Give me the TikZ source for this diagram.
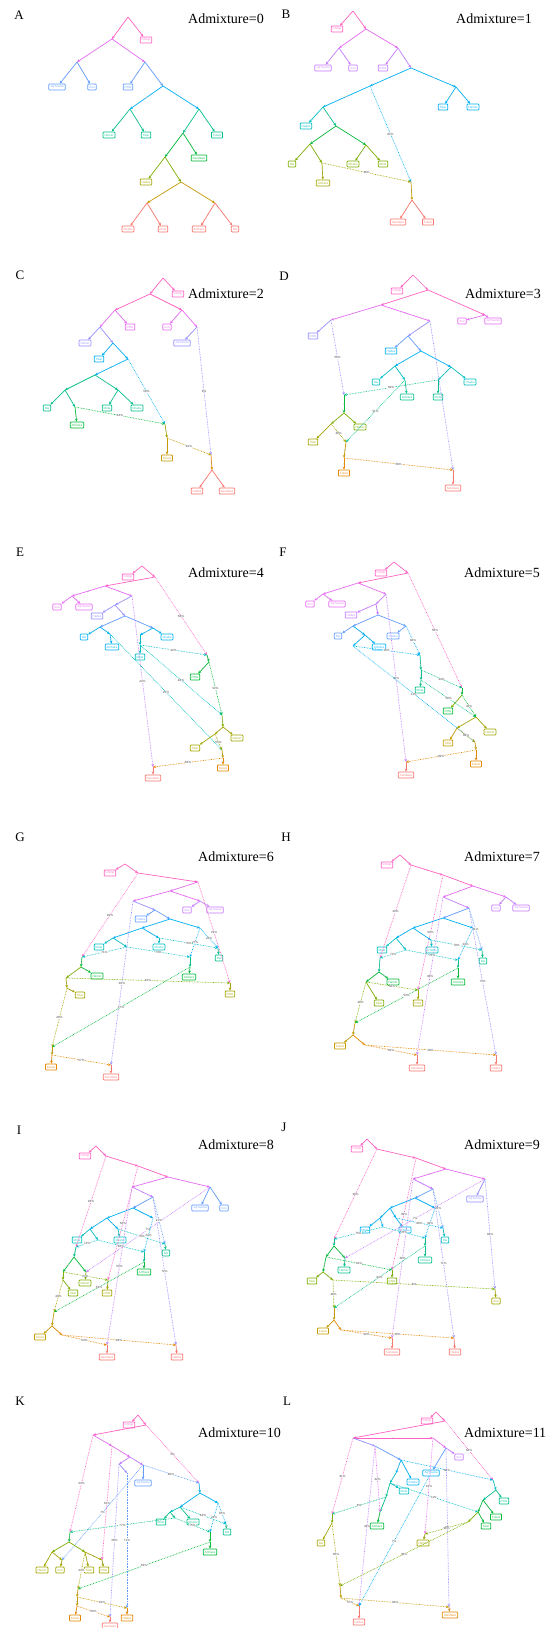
\documentclass[tikz,border=0pt]{standalone}
\usepackage{fontspec}
\setmainfont{Liberation Serif}
\setsansfont{Liberation Sans}
\usetikzlibrary{arrows.meta,decorations.markings}
\definecolor{cPink}{HTML}{FF61C3}
\definecolor{cMag}{HTML}{E76BF3}
\definecolor{cViol}{HTML}{C77CFF}
\definecolor{cLav}{HTML}{9590FF}
\definecolor{cBlue}{HTML}{619CFF}
\definecolor{cSky}{HTML}{00B0F6}
\definecolor{cCyan}{HTML}{00BFC4}
\definecolor{cTeal}{HTML}{00C08B}
\definecolor{cGreen}{HTML}{00BA38}
\definecolor{cLime}{HTML}{7CAE00}
\definecolor{cOlive}{HTML}{A3A500}
\definecolor{cGold}{HTML}{C49A00}
\definecolor{cOrange}{HTML}{E58700}
\definecolor{cSalmon}{HTML}{F8766D}
\tikzset{
  leaf/.style={draw=#1, text=#1!85!white, fill=white, rounded corners=0.8pt, line width=0.75pt,
    font=\fontsize{3}{3.2}\sffamily\selectfont, inner xsep=1.5pt, inner ysep=1pt, minimum height=6pt},
  te/.style={draw=#1, line width=0.7pt, -{Stealth[length=3pt,width=2.6pt]},
    postaction={decorate}, decoration={markings, mark=at position 0.5 with {\fill[gray!70] (0,0) circle (0.55pt);}}},
  ad/.style={draw=#1, line width=0.65pt, dash pattern=on 0.7pt off 0.9pt, -{Stealth[length=3pt,width=2.6pt]}},
  pct/.style={font=\fontsize{3}{3.4}\sffamily\selectfont, text=black!75, fill=white, inner sep=0.2pt},
  ttl/.style={font=\fontsize{14}{15}\selectfont, anchor=west, inner sep=0pt},
  plet/.style={font=\fontsize{13}{14}\selectfont, inner sep=0pt}
}
\newcommand{\Lf}[4]{\node[leaf=#4] (#1) at (#2) {#3};}
\newcommand{\Cp}[2]{\coordinate (#1) at (#2);}
\newcommand{\Te}[3]{\draw[te=#3] (#1) -- (#2);}
\newcommand{\Ad}[4]{\draw[ad=#3] (#1) -- node[pct]{#4\%} (#2);}
\begin{document}
\begin{tikzpicture}[x=1pt,y=-1pt]
\useasboundingbox (0,0) rectangle (547,1628);
\fill[white] (0,0) rectangle (547,1628);
% ---------- titles ----------
\node[plet] (lA) at (19,15) {A};   \node[ttl] (tA) at (188,19) {Admixture=0};
\node[plet] (lB) at (286,14) {B};  \node[ttl] (tB) at (456,19) {Admixture=1};
\node[plet] (lC) at (20,275) {C};  \node[ttl] (tC) at (188,294) {Admixture=2};
\node[plet] (lD) at (284,276) {D}; \node[ttl] (tD) at (465,294) {Admixture=3};
\node[plet] (lE) at (20,552) {E};  \node[ttl] (tE) at (188,573) {Admixture=4};
\node[plet] (lF) at (283,552) {F}; \node[ttl] (tF) at (464,573) {Admixture=5};
\node[plet] (lG) at (20,837) {G};  \node[ttl] (tG) at (198,857) {Admixture=6};
\node[plet] (lH) at (286,837) {H}; \node[ttl] (tH) at (464,857) {Admixture=7};
\node[plet] (lI) at (19,1130) {I}; \node[ttl] (tI) at (198,1145) {Admixture=8};
\node[plet] (lJ) at (284,1127) {J};\node[ttl] (tJ) at (464,1145) {Admixture=9};
\node[plet] (lK) at (20,1401) {K}; \node[ttl] (tK) at (198,1433) {Admixture=10};
\node[plet] (lL) at (287,1401) {L};\node[ttl] (tL) at (464,1433) {Admixture=11};
% ================= A =================
\Cp{Ar}{128,17}\Lf{AChimp}{146,40}{Chimp}{cPink}\Cp{A1}{112,39}
\Cp{A2}{77,62}\Cp{A3}{145,62}
\Lf{AJu}{57,87}{Ju|'hoansi}{cBlue}\Lf{AXoo}{92,87}{Xoo}{cBlue}
\Lf{ARHG}{128,87}{RHG}{cBlue}\Cp{A4}{163,86}
\Cp{A5}{130,109}\Cp{A6}{199,109}
\Lf{AHam}{109,135}{Hamer}{cTeal}\Lf{ATik}{146,135}{Tikar}{cTeal}
\Cp{A7}{183,133}\Lf{AFul}{217,135}{Fulani}{cTeal}
\Cp{A8}{165,157}\Lf{ASan}{199,158}{Sandawe}{cGreen}
\Lf{AHad}{146,182}{Hadza}{cOlive}\Cp{A9}{181,182}
\Cp{A10}{147,203}\Cp{A11}{215,203}
\Lf{ACha}{128,229}{Chabu}{cSalmon}\Lf{AMot}{163,229}{Mota}{cSalmon}
\Lf{AAmh}{199,229}{Amhara}{cSalmon}\Lf{ADai}{235,229}{Dai}{cSalmon}
\Te{Ar}{AChimp}{cPink}\Te{Ar}{A1}{cPink}\Te{A1}{A2}{cMag}\Te{A1}{A3}{cMag}
\Te{A2}{AJu}{cBlue}\Te{A2}{AXoo}{cBlue}\Te{A3}{ARHG}{cBlue}\Te{A3}{A4}{cBlue}
\Te{A4}{A5}{cSky}\Te{A4}{A6}{cSky}\Te{A5}{AHam}{cTeal}\Te{A5}{ATik}{cTeal}
\Te{A6}{A7}{cTeal}\Te{A6}{AFul}{cTeal}\Te{A7}{A8}{cGreen}\Te{A7}{ASan}{cGreen}
\Te{A8}{AHad}{cLime}\Te{A8}{A9}{cLime}\Te{A9}{A10}{cGold}\Te{A9}{A11}{cGold}
\Te{A10}{ACha}{cSalmon}\Te{A10}{AMot}{cSalmon}\Te{A11}{AAmh}{cSalmon}\Te{A11}{ADai}{cSalmon}
% ================= B =================
\Cp{Br}{353,11}\Lf{BChimp}{337,29}{Chimp}{cPink}\Cp{B1}{366,29}
\Cp{B2}{339,48}\Cp{B3}{398,48}
\Lf{BJu}{323,68}{Ju|'hoansi}{cViol}\Lf{BXoo}{353,68}{Xoo}{cViol}
\Lf{BRHG}{383,68}{RHG}{cViol}\Cp{B4}{411,68}
\Cp{B5}{370,86}\Cp{B6}{456,87}
\Lf{BTik}{443,107}{Tikar}{cSky}\Lf{BHam}{473,107}{Hamer}{cSky}
\Cp{B7}{323,107}\Lf{BHad}{306,126}{Hadza}{cCyan}\Cp{B8}{336,126}
\Cp{B9}{310,144}\Cp{B10}{366,145}
\Lf{BDai}{292,164}{Dai}{cLime}\Cp{B11}{322,163}\Lf{BAmh}{323,183}{Amhara}{cOlive}
\Lf{BCha}{353,164}{Chabu}{cLime}\Lf{BMot}{383,164}{Mota}{cLime}
\Cp{BA1}{411,182}\Cp{B12}{412,200}
\Lf{BSan}{398,222}{Sandawe}{cSalmon}\Lf{BFul}{428,222}{Fulani}{cSalmon}
\Te{Br}{BChimp}{cPink}\Te{Br}{B1}{cPink}\Te{B1}{B2}{cMag}\Te{B1}{B3}{cMag}
\Te{B2}{BJu}{cViol}\Te{B2}{BXoo}{cViol}\Te{B3}{BRHG}{cViol}\Te{B3}{B4}{cViol}
\Te{B4}{B5}{cSky}\Te{B4}{B6}{cSky}\Te{B6}{BTik}{cSky}\Te{B6}{BHam}{cSky}
\Te{B5}{B7}{cSky}\Te{B7}{BHad}{cCyan}\Te{B7}{B8}{cTeal}
\Te{B8}{B9}{cGreen}\Te{B8}{B10}{cGreen}\Te{B9}{BDai}{cLime}\Te{B9}{B11}{cLime}
\Te{B11}{BAmh}{cOlive}\Te{B10}{BCha}{cLime}\Te{B10}{BMot}{cLime}
\Ad{B5}{BA1}{cSky}{62}\Ad{B11}{BA1}{cOlive}{38}
\Te{BA1}{B12}{cGold}\Te{B12}{BSan}{cSalmon}\Te{B12}{BFul}{cSalmon}
% ================= C =================
\Cp{Cr}{163,278}\Lf{CChimp}{178,294}{Chimp}{cPink}\Cp{C1}{150,294}
\Cp{C2}{115,310}\Cp{C3}{182,310}
\Cp{C4}{100,327}\Lf{CRHG}{130,327}{RHG}{cMag}
\Lf{CXoo}{167,327}{Xoo}{cMag}\Cp{C5}{197,327}
\Lf{CJu}{182,343}{Ju|'hoansi}{cLav}
\Lf{CHam}{85,343}{Hamer}{cLav}\Cp{C6}{113,343}
\Lf{CTik}{99,359}{Tikar}{cSky}\Cp{C7}{128,359}
\Cp{C8}{95,375}\Cp{C9}{65,390}\Cp{C10}{118,390}
\Lf{CDai}{47,408}{Dai}{cTeal}\Cp{C11}{75,407}
\Lf{CAmh}{77,425}{Amhara}{cGreen}
\Lf{CMot}{107,408}{Mota}{cTeal}\Lf{CCha}{137,408}{Chabu}{cTeal}
\Cp{CA1}{165,424}\Cp{C12}{167,438}\Lf{CFul}{167,458}{Fulani}{cGold}
\Cp{CA2}{211,455}\Cp{C13}{212,470}
\Lf{CHad}{197,491}{Hadza}{cSalmon}\Lf{CSan}{227,491}{Sandawe}{cSalmon}
\Te{Cr}{CChimp}{cPink}\Te{Cr}{C1}{cPink}\Te{C1}{C2}{cPink}\Te{C1}{C3}{cPink}
\Te{C2}{C4}{cMag}\Te{C2}{CRHG}{cMag}\Te{C3}{CXoo}{cMag}\Te{C3}{C5}{cMag}
\Te{C5}{CJu}{cLav}\Te{C4}{CHam}{cLav}\Te{C4}{C6}{cLav}
\Te{C6}{CTik}{cSky}\Te{C6}{C7}{cSky}\Te{C7}{C8}{cSky}
\Te{C8}{C9}{cTeal}\Te{C8}{C10}{cTeal}\Te{C9}{CDai}{cTeal}\Te{C9}{C11}{cTeal}
\Te{C11}{CAmh}{cGreen}\Te{C10}{CMot}{cTeal}\Te{C10}{CCha}{cTeal}
\Ad{C7}{CA1}{cSky}{58}\Ad{C11}{CA1}{cGreen}{44}\Ad{C5}{CA2}{cLav}{9}
\Te{CA1}{C12}{cOlive}\Te{C12}{CFul}{cGold}\Ad{C12}{CA2}{cGold}{91}
\Te{CA2}{C13}{cOrange}\Te{C13}{CHad}{cSalmon}\Te{C13}{CSan}{cSalmon}
% ================= D =================
\Cp{Dr}{413,275}\Lf{DChimp}{397,291}{Chimp}{cPink}\Cp{D1}{428,290}
\Cp{D2}{381,305}\Cp{D3}{485,315}
\Lf{DXoo}{462,321}{Xoo}{cMag}\Lf{DJu}{493,321}{Ju|'hoansi}{cMag}
\Cp{D4}{331,320}\Cp{D5}{430,321}
\Lf{DRHG}{313,336}{RHG}{cLav}\Cp{D6}{408,336}
\Lf{DHad}{391,351}{Hadza}{cSky}\Cp{D7}{421,351}
\Cp{D8}{395,366}\Cp{D9}{451,367}
\Lf{DDai}{376,382}{Dai}{cCyan}\Cp{D10}{405,380}
\Lf{DAmh}{407,397}{Amhara}{cTeal}
\Cp{D11}{438,380}\Lf{DCha}{470,382}{Chabu}{cCyan}
\Lf{DMot}{438,397}{Mota}{cTeal}
\Cp{DA1}{344,395}\Cp{D12}{344,413}
\Lf{DHam}{360,427}{Hamer}{cLime}\Cp{D13}{331,424}
\Lf{DTik}{313,442}{Tikar}{cOlive}
\Cp{DA2}{346,442}\Cp{D14}{344,458}
\Lf{DFul}{344,473}{Fulani}{cOrange}
\Cp{DA3}{453,470}\Lf{DSan}{453,488}{Sandawe}{cSalmon}
\Te{Dr}{DChimp}{cPink}\Te{Dr}{D1}{cPink}\Te{D1}{D2}{cPink}\Te{D1}{D3}{cPink}
\Te{D3}{DXoo}{cMag}\Te{D3}{DJu}{cMag}\Te{D2}{D4}{cMag}\Te{D2}{D5}{cMag}
\Te{D4}{DRHG}{cLav}\Te{D5}{D6}{cLav}\Te{D6}{DHad}{cBlue}\Te{D6}{D7}{cBlue}
\Te{D7}{D8}{cSky}\Te{D7}{D9}{cSky}\Te{D8}{DDai}{cCyan}\Te{D8}{D10}{cCyan}
\Te{D10}{DAmh}{cTeal}\Te{D9}{D11}{cCyan}\Te{D9}{DCha}{cCyan}\Te{D11}{DMot}{cTeal}
\Ad{D4}{DA1}{cLav}{56}\Ad{D11}{DA1}{cTeal}{69}\draw[ad=cLav] (D5) -- (DA3);
\Te{DA1}{D12}{cGreen}\Te{D12}{DHam}{cLime}\Te{D12}{D13}{cLime}\Te{D13}{DTik}{cOlive}
\Ad{D13}{DA2}{cOlive}{49}\Ad{D10}{DA2}{cTeal}{51}
\Te{DA2}{D14}{cGold}\Te{D14}{DFul}{cOrange}\Ad{D14}{DA3}{cOrange}{58}\Te{DA3}{DSan}{cSalmon}
% ================= E =================
\Cp{Er}{142,566}\Lf{EChimp}{128,577}{Chimp}{cPink}\Cp{E1}{155,577}
\Cp{E2}{105,586}\Cp{E3}{72,596}\Cp{E4}{132,596}
\Lf{EXoo}{57,607}{Xoo}{cMag}\Lf{EJu}{84,607}{Ju|'hoansi}{cMag}
\Cp{E5}{115,605}\Lf{EHad}{97,616}{Hadza}{cLav}\Cp{E6}{125,616}
\Cp{E7}{100,627}\Cp{E8}{153,628}
\Lf{EDai}{84,637}{Dai}{cSky}\Cp{E9}{110,634}
\Lf{EAmh}{112,647}{Amhara}{cSky}
\Cp{E10}{140,635}\Cp{E10b}{140,645}\Lf{ECha}{167,637}{Chabu}{cSky}
\Lf{EMot}{140,657}{Mota}{cCyan}
\Cp{EA1}{207,655}\Cp{E11}{209,662}\Lf{ERHG}{195,677}{RHG}{cGreen}
\Cp{EA2}{222,715}\Cp{E12}{223,727}\Cp{E13}{215,734}
\Lf{ETik}{195,748}{Tikar}{cOlive}\Lf{EHam}{237,738}{Hamer}{cOlive}
\Cp{EA3}{222,750}\Cp{E14}{223,758}\Lf{EFul}{223,768}{Fulani}{cOrange}
\Cp{EA4}{153,767}\Lf{ESan}{153,778}{Sandawe}{cSalmon}
\Te{Er}{EChimp}{cPink}\Te{Er}{E1}{cPink}\Te{E1}{E2}{cPink}
\Te{E2}{E3}{cMag}\Te{E2}{E4}{cMag}\Te{E3}{EXoo}{cMag}\Te{E3}{EJu}{cMag}
\Te{E4}{E5}{cLav}\Te{E5}{EHad}{cLav}\Te{E5}{E6}{cLav}
\Te{E6}{E7}{cBlue}\Te{E6}{E8}{cBlue}\Te{E7}{EDai}{cSky}\Te{E7}{E9}{cSky}
\Te{E9}{EAmh}{cSky}\Te{E8}{E10}{cSky}\Te{E8}{ECha}{cSky}
\Te{E10}{E10b}{cCyan}\Te{E10b}{EMot}{cCyan}
\Ad{E1}{EA1}{cPink}{58}\Ad{E10b}{EA1}{cCyan}{42}\Ad{E4}{EA4}{cViol}{42}
\Ad{E10b}{EA2}{cCyan}{48}\Ad{E9}{EA3}{cCyan}{25}
\Te{EA1}{E11}{cGreen}\Te{E11}{ERHG}{cGreen}\Ad{E11}{EA2}{cGreen}{52}
\Te{EA2}{E12}{cLime}\Te{E12}{EHam}{cOlive}\Te{E12}{E13}{cOlive}\Te{E13}{ETik}{cOlive}
\Ad{E13}{EA3}{cOlive}{55}\Te{EA3}{E14}{cGold}\Te{E14}{EFul}{cOrange}
\Ad{E14}{EA4}{cOrange}{58}\Te{EA4}{ESan}{cSalmon}
% ================= F =================
\Cp{Fr}{394,562}\Lf{FChimp}{381,573}{Chimp}{cPink}\Cp{F1}{408,573}
\Cp{F2}{358,583}\Cp{F3}{323,594}\Cp{F4}{386,594}
\Lf{FXoo}{310,604}{Xoo}{cMag}\Lf{FJu}{337,604}{Ju|'hoansi}{cMag}
\Cp{F5}{376,604}\Lf{FHad}{351,615}{Hadza}{cViol}\Cp{F6}{378,615}
\Cp{F7}{353,626}\Cp{F8}{406,626}
\Lf{FDai}{338,636}{Dai}{cBlue}\Cp{F9}{365,635}
\Lf{FAmh}{379,647}{Amhara}{cSky}\Cp{F10}{353,646}
\Lf{FCha}{393,636}{Chabu}{cBlue}
\Cp{FA1}{420,655}\Cp{F11}{421,670}\Cp{F12}{421,680}
\Lf{FMot}{420,690}{Mota}{cTeal}
\Cp{FA2}{462,688}\Cp{F13}{462,695}\Lf{FRHG}{448,711}{RHG}{cGreen}
\Cp{FA3}{476,717}\Cp{F14}{457,728}
\Lf{FTik}{448,743}{Tikar}{cGold}\Lf{FHam}{490,732}{Hamer}{cOlive}
\Cp{FA4}{475,742}\Cp{F15}{476,750}\Lf{FFul}{476,764}{Fulani}{cOrange}
\Cp{FA5}{406,762}\Lf{FSan}{406,775}{Sandawe}{cSalmon}
\Te{Fr}{FChimp}{cPink}\Te{Fr}{F1}{cPink}\Te{F1}{F2}{cPink}
\Te{F2}{F3}{cMag}\Te{F2}{F4}{cMag}\Te{F3}{FXoo}{cMag}\Te{F3}{FJu}{cMag}
\Te{F4}{F5}{cViol}\Te{F5}{FHad}{cViol}\Te{F5}{F6}{cViol}
\Te{F6}{F7}{cBlue}\Te{F6}{F8}{cBlue}\Te{F7}{FDai}{cBlue}\Te{F7}{F9}{cSky}
\Te{F9}{FAmh}{cSky}\Te{F9}{F10}{cSky}\Te{F8}{FCha}{cBlue}
\Ad{F1}{FA2}{cPink}{56}\Ad{F10}{FA1}{cSky}{16}\Ad{F8}{FA1}{cSky}{84}
\Ad{F4}{FA5}{cViol}{40}\Ad{F10}{FA4}{cSky}{11}
\Te{FA1}{F11}{cTeal}\Te{F11}{F12}{cTeal}\Te{F12}{FMot}{cTeal}
\Ad{F11}{FA2}{cTeal}{44}\Ad{F12}{FA3}{cTeal}{58}
\Te{FA2}{F13}{cGreen}\Te{F13}{FRHG}{cLime}\Ad{F13}{FA3}{cGreen}{42}
\Te{FA3}{F14}{cOlive}\Te{FA3}{FHam}{cOlive}\Te{F14}{FTik}{cGold}
\Ad{F14}{FA4}{cGold}{89}\Te{FA4}{F15}{cGold}\Te{F15}{FFul}{cOrange}
\Ad{F15}{FA5}{cOrange}{59}\Te{FA5}{FSan}{cSalmon}
% ================= G =================
\Cp{Gr}{125,864}\Lf{GChimp}{110,873}{Chimp}{cPink}\Cp{G1}{138,873}
\Cp{G2}{198,882}\Cp{G3}{170,891}\Cp{G4}{133,901}\Cp{G5}{200,901}
\Lf{GXoo}{187,910}{Xoo}{cViol}\Lf{GJu}{215,910}{Ju|'hoansi}{cViol}
\Cp{G6}{155,910}\Lf{GHad}{141,919}{Hadza}{cBlue}\Cp{G7}{170,919}
\Cp{G8}{142,928}\Cp{G9}{200,928}\Cp{G10}{113,938}\Cp{G11}{159,938}
\Lf{GMot}{99,947}{Mota}{cCyan}\Cp{G12}{127,947}\Lf{GCha}{159,947}{Chabu}{cCyan}
\Cp{GA2}{218,948}\Lf{GDai}{219,958}{Dai}{cTeal}
\Cp{GA3}{190,957}\Cp{G13}{190,967}\Lf{GAmh}{189,977}{Amhara}{cGreen}
\Cp{GA1}{82,957}\Cp{G14}{81,967}\Lf{GHam}{97,976}{Hamer}{cGreen}
\Cp{G15}{66,978}\Cp{G17}{67,988}\Lf{GTik}{80,995}{Tikar}{cOlive}
\Cp{GA4}{230,983}\Lf{GRHG}{230,994}{RHG}{cOlive}
\Cp{GA5}{52,1047}\Cp{G16}{52,1055}\Lf{GFul}{51,1067}{Fulani}{cOrange}
\Cp{GA6}{111,1065}\Lf{GSan}{111,1077}{Sandawe}{cSalmon}
\Te{Gr}{GChimp}{cPink}\Te{Gr}{G1}{cPink}\Te{G1}{G2}{cPink}\Te{G2}{G3}{cMag}
\Te{G3}{G4}{cMag}\Te{G3}{G5}{cMag}\Te{G5}{GXoo}{cViol}\Te{G5}{GJu}{cViol}
\Te{G4}{G6}{cLav}\Te{G6}{GHad}{cBlue}\Te{G6}{G7}{cBlue}
\Te{G7}{G8}{cSky}\Te{G7}{G9}{cSky}\Te{G8}{G10}{cSky}\Te{G8}{G11}{cSky}
\Te{G10}{GMot}{cCyan}\Te{G10}{G12}{cCyan}\Te{G11}{GCha}{cCyan}
\Ad{G1}{GA1}{cPink}{29}\Ad{G12}{GA1}{cCyan}{71}\Ad{G12}{GA3}{cCyan}{73}
\Ad{G9}{GA3}{cSky}{27}\Ad{G11}{GA2}{cCyan}{76}\Ad{G9}{GA2}{cSky}{24}
\Ad{G2}{GA4}{cPink}{19}\Ad{G4}{GA6}{cLav}{40}
\Te{GA2}{GDai}{cTeal}\Te{GA3}{G13}{cTeal}\Te{G13}{GAmh}{cGreen}
\Te{GA1}{G14}{cGreen}\Te{G14}{GHam}{cGreen}\Te{G14}{G15}{cLime}
\Te{G15}{G17}{cOlive}\Te{G17}{GTik}{cOlive}\Ad{G15}{GA4}{cLime}{81}
\Te{GA4}{GRHG}{cOlive}\Ad{G13}{GA5}{cGreen}{37}\Ad{G17}{GA5}{cOlive}{48}
\Te{GA5}{G16}{cGold}\Te{G16}{GFul}{cOrange}\Ad{G16}{GA6}{cOrange}{57}\Te{GA6}{GSan}{cSalmon}
% ================= H =================
\Cp{Hr}{400,855}\Lf{HChimp}{387,865}{Chimp}{cPink}\Cp{H1}{411,865}
\Cp{H2}{443,875}\Cp{H3}{473,886}\Cp{H4}{506,897}
\Lf{HXoo}{496,908}{Xoo}{cViol}\Lf{HJu}{521,908}{Ju|'hoansi}{cViol}
\Cp{H5}{443,897}\Cp{H6}{469,908}\Cp{H7}{443,918}
\Cp{H8}{413,928}\Cp{H9}{473,928}\Cp{H10}{396,938}\Cp{H11}{431,940}
\Lf{HMot}{382,950}{Mota}{cCyan}\Cp{H12}{406,950}\Lf{HCha}{432,950}{Chabu}{cCyan}
\Cp{HA2}{482,950}\Lf{HDai}{483,961}{Dai}{cTeal}
\Cp{HA3}{458,960}\Cp{H13}{458,968}\Lf{HAmh}{458,982}{Amhara}{cGreen}
\Cp{HA1}{380,958}\Cp{H14}{379,972}\Lf{HHam}{393,982}{Hamer}{cGreen}
\Cp{H15}{366,982}\Lf{HTik}{379,1003}{Tikar}{cLime}
\Cp{HA5}{418,990}\Lf{HRHG}{418,1003}{RHG}{cOlive}
\Cp{HA6}{355,1023}\Cp{H16}{353,1035}\Lf{HFul}{340,1046}{Fulani}{cGold}
\Cp{H17}{365,1045}
\Cp{HA7}{417,1055}\Lf{HSan}{417,1068}{Sandawe}{cSalmon}
\Cp{HA8}{496,1055}\Lf{HHad}{496,1068}{Hadza}{cSalmon}
\Te{Hr}{HChimp}{cPink}\Te{Hr}{H1}{cPink}\Te{H1}{H2}{cPink}\Te{H2}{H3}{cPink}
\Te{H3}{H4}{cMag}\Te{H4}{HXoo}{cViol}\Te{H4}{HJu}{cViol}\Te{H3}{H5}{cMag}
\Te{H5}{H6}{cViol}\Te{H6}{H7}{cBlue}\Te{H7}{H8}{cSky}\Te{H7}{H9}{cSky}
\Te{H8}{H10}{cSky}\Te{H8}{H11}{cSky}\Te{H10}{HMot}{cCyan}\Te{H10}{H12}{cCyan}\Te{H11}{HCha}{cCyan}
\Ad{H1}{HA1}{cPink}{29}\Ad{H2}{HA5}{cPink}{59}\Ad{H5}{HA7}{cViol}{38}
\Ad{H6}{HA8}{cLav}{73}\Ad{H6}{HA2}{cBlue}{21}\Ad{H9}{HA3}{cSky}{24}
\Ad{H11}{HA2}{cCyan}{79}\Ad{H12}{HA1}{cCyan}{71}\Ad{H12}{HA3}{cCyan}{76}
\Te{HA2}{HDai}{cTeal}\Te{HA3}{H13}{cTeal}\Te{H13}{HAmh}{cGreen}
\Te{HA1}{H14}{cTeal}\Te{H14}{HHam}{cGreen}\Te{H14}{H15}{cGreen}\Te{H15}{HTik}{cLime}
\Ad{H15}{HA5}{cLime}{62}\Te{HA5}{HRHG}{cOlive}
\Ad{H13}{HA6}{cGreen}{53}\Ad{H15}{HA6}{cLime}{49}
\Te{HA6}{H16}{cGold}\Te{H16}{HFul}{cGold}\Te{H16}{H17}{cOrange}
\Ad{H17}{HA7}{cOrange}{81}\Ad{H17}{HA8}{cOrange}{28}
\Te{HA7}{HSan}{cSalmon}\Te{HA8}{HHad}{cSalmon}
% ================= I =================
\Cp{Ir}{96,1146}\Lf{IChimp}{85,1156}{Chimp}{cPink}\Cp{I1}{106,1156}
\Cp{I2}{138,1166}\Cp{I3}{168,1177}\Cp{I4}{210,1187}
\Lf{IJu}{200,1208}{Ju|'hoansi}{cBlue}\Lf{IXoo}{224,1208}{Xoo}{cBlue}
\Cp{I5}{132,1187}\Cp{I6}{153,1197}\Cp{I7}{133,1208}
\Cp{I8}{107,1218}\Cp{I9}{153,1218}\Cp{I10}{90,1229}\Cp{I11}{118,1229}
\Lf{IMot}{77,1240}{Mota}{cCyan}\Cp{I12}{98,1240}\Lf{ICha}{120,1240}{Chabu}{cCyan}
\Cp{IA2}{165,1244}\Lf{IDai}{166,1253}{Dai}{cTeal}
\Cp{IA3}{144,1252}\Cp{I13}{144,1262}\Lf{IAmh}{144,1272}{Amhara}{cGreen}
\Cp{IA1}{76,1247}\Cp{I14}{74,1257}\Cp{IA4}{86,1272}\Lf{IHam}{85,1283}{Hamer}{cLime}
\Cp{I15}{63,1272}\Cp{I16}{63,1280}\Lf{ITik}{73,1293}{Tikar}{cLime}
\Cp{IA5}{108,1280}\Lf{IRHG}{107,1293}{RHG}{cOlive}
\Cp{IA6}{54,1312}\Cp{I17}{52,1326}\Lf{IFul}{40,1337}{Fulani}{cGold}\Cp{I18}{62,1335}
\Cp{IA7}{107,1345}\Lf{ISan}{107,1357}{Sandawe}{cSalmon}
\Cp{IA8}{176,1345}\Lf{IHad}{177,1357}{Hadza}{cSalmon}
\Te{Ir}{IChimp}{cPink}\Te{Ir}{I1}{cPink}\Te{I1}{I2}{cPink}\Te{I2}{I3}{cPink}
\Te{I3}{I4}{cMag}\Te{I4}{IJu}{cBlue}\Te{I4}{IXoo}{cBlue}\Te{I3}{I5}{cMag}
\Te{I5}{I6}{cViol}\Te{I6}{I7}{cBlue}\Te{I7}{I8}{cSky}\Te{I7}{I9}{cSky}
\Te{I8}{I10}{cSky}\Te{I8}{I11}{cSky}\Te{I10}{IMot}{cCyan}\Te{I10}{I12}{cCyan}\Te{I11}{ICha}{cCyan}
\Ad{I1}{IA1}{cPink}{28}\Ad{I2}{IA5}{cPink}{36}\Ad{I5}{IA7}{cViol}{55}
\Ad{I4}{IA4}{cViol}{7}\Ad{I6}{IA8}{cLav}{72}\Ad{I6}{IA2}{cBlue}{21}
\Ad{I9}{IA3}{cSky}{34}\Ad{I11}{IA2}{cCyan}{79}\Ad{I12}{IA1}{cCyan}{74}\Ad{I12}{IA3}{cCyan}{66}
\Te{IA2}{IDai}{cTeal}\Te{IA3}{I13}{cTeal}\Te{I13}{IAmh}{cGreen}
\Te{IA1}{I14}{cTeal}\Te{I14}{I15}{cGreen}\Te{I14}{IA4}{cGreen}\Te{IA4}{IHam}{cLime}
\Te{I15}{I16}{cLime}\Te{I16}{ITik}{cLime}\Ad{I15}{IA5}{cLime}{64}\Te{IA5}{IRHG}{cOlive}
\Ad{I13}{IA6}{cGreen}{53}\Ad{I16}{IA6}{cOlive}{49}
\Te{IA6}{I17}{cGold}\Te{I17}{IFul}{cGold}\Te{I17}{I18}{cOrange}
\Ad{I18}{IA7}{cOrange}{64}\Ad{I18}{IA8}{cOrange}{28}
\Te{IA7}{ISan}{cSalmon}\Te{IA8}{IHad}{cSalmon}
% ================= J =================
\Cp{Jr}{367,1139}\Lf{JChimp}{357,1149}{Chimp}{cPink}\Cp{J1}{377,1149}
\Cp{J2}{416,1158}\Cp{J3}{446,1169}\Cp{J4}{485,1179}
\Lf{JJu}{475,1199}{Ju|'hoansi}{cLav}
\Cp{J5}{413,1179}\Cp{J6}{433,1189}\Cp{J7}{415,1198}
\Cp{J8}{390,1208}\Cp{J9}{435,1208}\Cp{J10}{380,1218}\Cp{J11}{396,1218}
\Lf{JMot}{365,1230}{Mota}{cSky}\Cp{J12}{383,1227}\Lf{JCha}{405,1230}{Chabu}{cSky}
\Cp{JA2}{443,1228}\Lf{JDai}{445,1240}{Dai}{cCyan}
\Cp{JA3}{425,1238}\Cp{J13}{425,1246}\Lf{JAmh}{425,1260}{Amhara}{cTeal}
\Cp{JA1}{334,1239}\Cp{J14}{334,1246}\Cp{J15}{326,1257}\Cp{JA4}{345,1258}
\Lf{JHam}{344,1270}{Hamer}{cTeal}
\Cp{J16}{323,1272}\Lf{JTik}{312,1281}{Tikar}{cLime}\Cp{J17}{333,1280}
\Cp{JA5}{392,1270}\Lf{JRHG}{392,1281}{RHG}{cLime}
\Cp{JA9}{495,1289}\Lf{JXoo}{496,1301}{Xoo}{cOlive}
\Cp{JA6}{334,1308}\Cp{J18}{334,1320}\Lf{JFul}{323,1331}{Fulani}{cGold}\Cp{J19}{341,1330}
\Cp{JA7}{392,1338}\Lf{JSan}{392,1352}{Sandawe}{cSalmon}
\Cp{JA8}{454,1338}\Lf{JHad}{455,1352}{Hadza}{cSalmon}
\Te{Jr}{JChimp}{cPink}\Te{Jr}{J1}{cPink}\Te{J1}{J2}{cPink}\Te{J2}{J3}{cPink}
\Te{J3}{J4}{cMag}\Te{J4}{JJu}{cLav}\Te{J3}{J5}{cMag}\Te{J5}{J6}{cViol}\Te{J6}{J7}{cBlue}
\Te{J7}{J8}{cSky}\Te{J7}{J9}{cSky}\Te{J8}{J10}{cSky}\Te{J8}{J11}{cSky}
\Te{J10}{JMot}{cSky}\Te{J10}{J12}{cSky}\Te{J11}{JCha}{cSky}
\Ad{J1}{JA1}{cPink}{26}\Ad{J2}{JA5}{cPink}{39}\Ad{J4}{JA9}{cLav}{94}\Ad{J4}{JA4}{cViol}{7}
\Ad{J5}{JA7}{cViol}{38}\Ad{J6}{JA8}{cLav}{71}\Ad{J6}{JA2}{cBlue}{20}
\Ad{J9}{JA3}{cSky}{34}\Ad{J11}{JA2}{cSky}{80}\Ad{J12}{JA1}{cCyan}{75}\Ad{J12}{JA3}{cCyan}{76}
\Te{JA2}{JDai}{cCyan}\Te{JA3}{J13}{cTeal}\Te{J13}{JAmh}{cTeal}
\Te{JA1}{J14}{cTeal}\Te{J14}{J15}{cGreen}\Te{J14}{JA4}{cGreen}\Te{JA4}{JHam}{cTeal}
\Te{J15}{J16}{cGreen}\Te{J16}{JTik}{cLime}\Te{J16}{J17}{cLime}
\Ad{J15}{JA5}{cGreen}{61}\Te{JA5}{JRHG}{cLime}\Ad{J17}{JA9}{cLime}{8}\Te{JA9}{JXoo}{cOlive}
\Ad{J13}{JA6}{cTeal}{64}\Ad{J17}{JA6}{cLime}{48}
\Te{JA6}{J18}{cGold}\Te{J18}{JFul}{cGold}\Te{J18}{J19}{cOrange}
\Ad{J19}{JA7}{cOrange}{62}\Ad{J19}{JA8}{cOrange}{29}
\Te{JA7}{JSan}{cSalmon}\Te{JA8}{JHad}{cSalmon}
% ================= K =================
\Cp{Kr}{138,1415}\Lf{KChimp}{129,1425}{Chimp}{cPink}\Cp{K1}{146,1425}
\Cp{K2}{93,1435}\Cp{K2b}{112,1446}\Cp{K3}{130,1457}
\Cp{K4}{119,1464}\Cp{K5}{143,1465}\Cp{K6}{127,1473}
\Lf{KJu}{143,1483}{Ju|'hoansi}{cBlue}
\Cp{KA2}{199,1483}\Cp{K7}{200,1493}\Cp{K8}{180,1507}\Cp{K9}{218,1503}
\Cp{K10}{170,1512}\Lf{KMot}{161,1522}{Mota}{cTeal}\Cp{K11}{175,1518}
\Lf{KCha}{193,1522}{Chabu}{cTeal}
\Cp{KA3}{210,1532}\Cp{K17}{210,1542}\Lf{KAmh}{210,1552}{Amhara}{cGreen}
\Cp{KA4}{226,1524}\Lf{KDai}{227,1532}{Dai}{cTeal}
\Cp{KA1}{70,1532}\Cp{K12}{69,1542}\Cp{K13}{52,1552}\Cp{K14}{85,1552}
\Cp{KA9}{62,1560}\Cp{KA8}{102,1560}
\Lf{KHam}{42,1570}{Hamer}{cOlive}\Lf{KXoo}{60,1570}{Xoo}{cOlive}
\Lf{KTik}{89,1570}{Tikar}{cOlive}\Lf{KRHG}{104,1570}{RHG}{cOlive}
\Cp{KA5}{78,1589}\Cp{K15}{77,1597}\Cp{K16}{77,1606}\Lf{KFul}{75,1618}{Fulani}{cOrange}
\Cp{KA6}{127,1608}\Lf{KHad}{127,1618}{Hadza}{cOrange}
\Cp{KA7}{110,1617}\Lf{KSan}{110,1626}{Sandawe}{cSalmon}
\Te{Kr}{KChimp}{cPink}\Te{Kr}{K1}{cPink}\Te{K1}{K2}{cPink}\Te{K2}{K2b}{cMag}\Te{K2b}{K3}{cMag}
\Te{K3}{K4}{cViol}\Te{K3}{K5}{cViol}\Te{K4}{K6}{cLav}\Te{K5}{KJu}{cBlue}
\Ad{K1}{KA2}{cPink}{3}\Ad{K5}{KA2}{cBlue}{86}\Ad{K2}{KA1}{cPink}{33}\Ad{K2b}{KA8}{cPink}{32}
\Ad{K5}{KA9}{cBlue}{7}\Ad{K6}{KA6}{cBlue}{71}\Ad{K4}{KA7}{cLav}{38}
\Te{KA2}{K7}{cSky}\Te{K7}{K8}{cSky}\Te{K7}{K9}{cSky}\Te{K8}{K10}{cCyan}
\Te{K10}{KMot}{cTeal}\Te{K10}{K11}{cTeal}\Te{K8}{KCha}{cTeal}
\Ad{K11}{KA1}{cTeal}{77}\Ad{K11}{KA3}{cTeal}{75}\Ad{K9}{KA3}{cSky}{24}\Ad{K9}{KA4}{cSky}{36}
\Ad{K8}{KA4}{cCyan}{64}\Te{KA4}{KDai}{cTeal}
\Te{KA3}{K17}{cGreen}\Te{K17}{KAmh}{cGreen}
\Te{KA1}{K12}{cGreen}\Te{K12}{K13}{cLime}\Te{K12}{K14}{cLime}
\Te{K13}{KA9}{cOlive}\Te{K13}{KHam}{cOlive}\Te{KA9}{KXoo}{cOlive}
\Te{K14}{KTik}{cOlive}\Te{K14}{KA8}{cOlive}\Te{KA8}{KRHG}{cOlive}
\Ad{K17}{KA5}{cGreen}{56}\Ad{K14}{KA5}{cOlive}{44}
\Te{KA5}{K15}{cGold}\Te{K15}{K16}{cGold}\Te{K16}{KFul}{cOrange}
\Ad{K15}{KA6}{cGold}{29}\Ad{K16}{KA7}{cOrange}{66}
\Te{KA6}{KHad}{cOrange}\Te{KA7}{KSan}{cSalmon}
% ================= L =================
\Cp{Lr}{436,1412}\Lf{LChimp}{427,1421}{Chimp}{cPink}\Cp{L1}{445,1421}
\Cp{L2}{353,1438}\Cp{L3}{433,1438}\Cp{L4}{446,1448}
\Lf{LXoo}{459,1457}{Xoo}{cViol}\Lf{LJu}{431,1473}{Ju|'hoansi}{cSky}
\Cp{L6}{375,1446}\Cp{L7}{401,1460}\Cp{L8}{396,1473}\Lf{LCha}{413,1482}{Chabu}{cSky}
\Cp{L9}{390,1483}\Lf{LMot}{404,1491}{Mota}{cCyan}
\Cp{L10}{386,1497}\Cp{LA3}{380,1512}\Lf{LAmh}{377,1526}{Amhara}{cGreen}
\Cp{LA1}{493,1480}\Cp{L11}{496,1490}\Lf{LRHG}{504,1501}{RHG}{cTeal}
\Cp{L12}{483,1500}\Lf{LFul}{496,1517}{Fulani}{cGreen}
\Cp{L13}{478,1512}\Lf{LTik}{486,1526}{Tikar}{cGreen}\Cp{L14}{468,1522}
\Cp{LA2}{332,1514}\Cp{L15}{332,1523}\Lf{LDai}{321,1543}{Dai}{cOlive}
\Cp{LA4}{425,1534}\Lf{LHam}{423,1543}{Hamer}{cOlive}
\Cp{LA5}{340,1586}\Cp{L16}{341,1598}
\Cp{LA6}{359,1606}\Lf{LHad}{359,1622}{Hadza}{cSalmon}
\Cp{LA7}{449,1607}\Lf{LSan}{450,1615}{Sandawe}{cOrange}
\Te{Lr}{LChimp}{cPink}\Te{Lr}{L1}{cPink}\Te{L1}{L2}{cPink}\Te{L2}{L3}{cPink}
\Te{L3}{L4}{cMag}\Te{L4}{LXoo}{cViol}\Te{L4}{LJu}{cBlue}
\Te{L2}{L6}{cLav}\Te{L6}{L7}{cBlue}\Te{L7}{L8}{cSky}\Te{L7}{LCha}{cSky}
\Te{L8}{L9}{cCyan}\Te{L9}{LMot}{cCyan}\Te{L9}{L10}{cTeal}\Te{L10}{LA3}{cTeal}\Te{LA3}{LAmh}{cGreen}
\Ad{L1}{LA1}{cPink}{64}\Ad{L2}{LA2}{cPink}{91}\Ad{L7}{LA1}{cSky}{88}
\Ad{L10}{LA2}{cTeal}{9}\Ad{L6}{LA3}{cMag}{42}\Ad{L9}{L13}{cCyan}{11}
\Ad{L3}{LA4}{cMag}{10}\Ad{L6}{LA6}{cViol}{43}\Ad{L4}{LA7}{cLav}{6}\Ad{LJu}{LA6}{cSky}{7}
\Te{LA1}{L11}{cCyan}\Te{L11}{LRHG}{cTeal}\Te{L11}{L12}{cTeal}\Te{L12}{LFul}{cGreen}
\Te{L12}{L13}{cGreen}\Te{L13}{LTik}{cGreen}\Te{L13}{L14}{cLime}
\Ad{L14}{LA4}{cLime}{90}\Te{LA4}{LHam}{cOlive}\Ad{L14}{LA5}{cLime}{38}
\Te{LA2}{L15}{cLime}\Te{L15}{LDai}{cOlive}\Ad{L15}{LA5}{cOlive}{65}
\Te{LA5}{L16}{cGold}\Ad{L16}{LA6}{cGold}{57}\Ad{L16}{LA7}{cGold}{94}
\Te{LA6}{LHad}{cSalmon}\Te{LA7}{LSan}{cOrange}
\end{tikzpicture}
\end{document}
